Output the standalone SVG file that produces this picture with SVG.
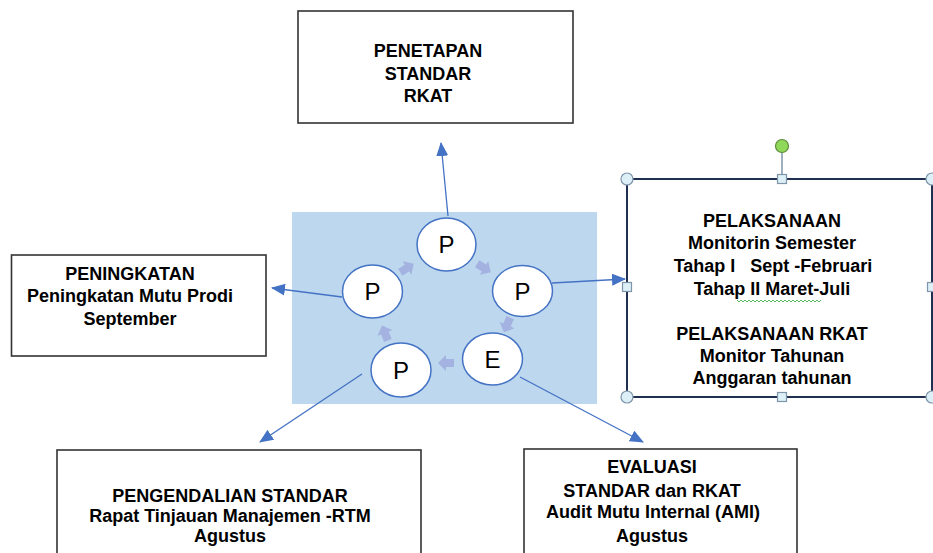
<svg xmlns="http://www.w3.org/2000/svg" width="933" height="553" viewBox="0 0 933 553">
<style>
.box{fill:#fff;stroke:#333;stroke-width:1.6}
.t{font-family:"Liberation Sans",Arial,sans-serif;font-weight:bold;font-size:18px;fill:#000;text-anchor:middle}
.c{fill:#fff;stroke:#4472C4;stroke-width:1.5}
.ct{font-family:"Liberation Sans",Arial,sans-serif;font-size:24px;fill:#000;text-anchor:middle}
.con{stroke:#4472C4;stroke-width:1.3;fill:none;marker-end:url(#ah)}
.cyc{fill:#A3B2E0}
.h{fill:#DDEFF7;stroke:#7F96AA;stroke-width:1.2}
</style>
<defs>
<marker id="ah" markerUnits="userSpaceOnUse" markerWidth="14" markerHeight="12" viewBox="0 0 14 12" refX="13" refY="6" orient="auto">
<path d="M0,0 L14,6 L0,12 Z" fill="#4472C4"/>
</marker>
<polygon id="ba" points="-8,-4 0,-4 0,-8 8,0 0,8 0,4 -8,4"/>
</defs>

<rect x="292" y="212" width="305" height="192" fill="#BDD7EE"/>

<g id="connectors">
<line class="con" x1="448" y1="216" x2="441" y2="143"/>
<line class="con" x1="342" y1="297" x2="272" y2="288"/>
<line class="con" x1="552" y1="283" x2="625" y2="279"/>
<line class="con" x1="362" y1="374" x2="260" y2="442"/>
<line class="con" x1="520" y1="377" x2="643" y2="442"/>
</g>

<g id="cycle-arrows" class="cyc">
<use href="#ba" transform="translate(407,268) rotate(-33)"/>
<use href="#ba" transform="translate(484,268) rotate(32)"/>
<use href="#ba" transform="translate(507,325) rotate(113)"/>
<use href="#ba" transform="translate(446,363) rotate(180)"/>
<use href="#ba" transform="translate(385,333) rotate(-111)"/>
</g>

<g id="c-top"><ellipse class="c" cx="446.5" cy="244.5" rx="29.5" ry="26.5"/><text class="ct" x="446.5" y="253">P</text></g>
<g id="c-right"><ellipse class="c" cx="522.5" cy="291" rx="30" ry="25.5"/><text class="ct" x="522.5" y="299.5">P</text></g>
<g id="c-e"><ellipse class="c" cx="492.5" cy="359" rx="30" ry="26"/><text class="ct" x="492.5" y="367.5">E</text></g>
<g id="c-bottom"><ellipse class="c" cx="401" cy="370" rx="30" ry="27"/><text class="ct" x="401" y="378.5">P</text></g>
<g id="c-left"><ellipse class="c" cx="372.5" cy="291.5" rx="30" ry="26.5"/><text class="ct" x="372.5" y="300">P</text></g>

<g id="penetapan">
<rect class="box" x="298" y="11" width="275" height="112"/>
<text class="t" x="428" y="57">PENETAPAN</text>
<text class="t" x="428" y="80">STANDAR</text>
<text class="t" x="428" y="102">RKAT</text>
</g>

<g id="peningkatan">
<rect class="box" x="11.5" y="255" width="254.5" height="101"/>
<text class="t" x="130" y="280">PENINGKATAN</text>
<text class="t" x="130" y="302">Peningkatan Mutu Prodi</text>
<text class="t" x="130" y="325">September</text>
</g>

<g id="pelaksanaan">
<rect x="627" y="179" width="305" height="218" fill="#fff" stroke="#1F3050" stroke-width="2"/>
<line x1="782" y1="152" x2="782" y2="175" stroke="#7F96AA" stroke-width="1.5"/>
<circle cx="782" cy="146" r="6.5" fill="#8FD85A" stroke="#5E8C3A" stroke-width="1.2"/>
<circle class="h" cx="627" cy="179" r="6"/>
<circle class="h" cx="932" cy="179" r="6"/>
<circle class="h" cx="627" cy="397" r="6"/>
<circle class="h" cx="932" cy="397" r="6"/>
<rect class="h" x="777.5" y="174.5" width="9" height="9"/>
<rect class="h" x="777.5" y="392.5" width="9" height="9"/>
<rect class="h" x="622.5" y="282.5" width="9" height="9"/>
<rect class="h" x="927.5" y="282.5" width="9" height="9"/>
<text class="t" x="772" y="227">PELAKSANAAN</text>
<text class="t" x="772" y="249">Monitorin Semester</text>
<text class="t" x="773" y="272" style="white-space:pre">Tahap I   Sept -Februari</text>
<text class="t" x="772" y="295">Tahap II  Maret-Juli</text>
<path d="M737,300 l2,2 l2,-2 l2,2 l2,-2 l2,2 l2,-2 l2,2 l2,-2 l2,2 l2,-2 l2,2 l2,-2 l2,2 l2,-2 l2,2 l2,-2 l2,2 l2,-2 l2,2 l2,-2 l2,2 l2,-2 l2,2 l2,-2 l2,2 l2,-2 l2,2 l2,-2 l2,2 l2,-2 l2,2 l2,-2 l2,2 l2,-2 l2,2 l2,-2 l2,2 l2,-2 l2,2 l2,-2 l2,2 l2,-2" fill="none" stroke="#5CB85C" stroke-width="1"/>
<text class="t" x="772" y="340">PELAKSANAAN RKAT</text>
<text class="t" x="772" y="362">Monitor Tahunan</text>
<text class="t" x="772" y="384">Anggaran tahunan</text>
</g>

<g id="pengendalian">
<rect class="box" x="57" y="450" width="364" height="115"/>
<text class="t" x="230" y="502">PENGENDALIAN STANDAR</text>
<text class="t" x="230" y="522">Rapat Tinjauan Manajemen -RTM</text>
<text class="t" x="230" y="542">Agustus</text>
</g>

<g id="evaluasi">
<rect class="box" x="524" y="449" width="273" height="115"/>
<text class="t" x="652" y="473">EVALUASI</text>
<text class="t" x="652" y="497">STANDAR dan RKAT</text>
<text class="t" x="653" y="518">Audit Mutu Internal (AMI)</text>
<text class="t" x="652" y="542">Agustus</text>
</g>
</svg>
